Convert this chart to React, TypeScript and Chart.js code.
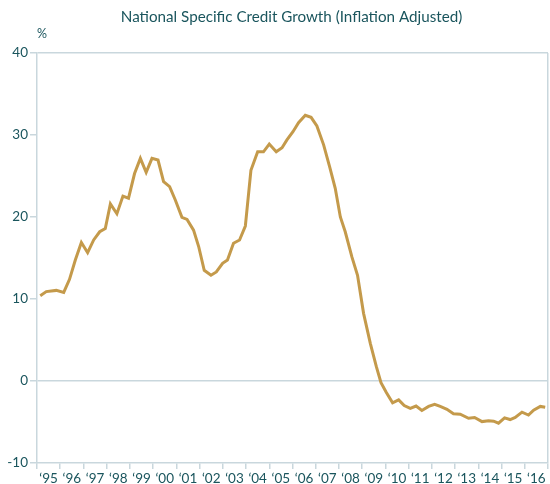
import React, { useEffect, useRef } from "react";
import { Chart, registerables } from "chart.js";

Chart.register(...registerables);

const TITLE = "National Specific Credit Growth (Inflation Adjusted)";
const UNIT = "%";

// Dates (decimal years) and values (% y/y, inflation adjusted)
const dates: number[] = [
  1995.14, 1995.40, 1995.83, 1996.15, 1996.40, 1996.65, 1996.91, 1997.18, 1997.44, 1997.70,
  1997.94, 1998.16, 1998.44, 1998.70, 1998.94, 1999.20, 1999.45, 1999.70, 1999.95, 2000.21,
  2000.45, 2000.71, 2000.95, 2001.24, 2001.46, 2001.74, 2001.96, 2002.20, 2002.49, 2002.72,
  2002.99, 2003.20, 2003.46, 2003.72, 2003.97, 2004.21, 2004.50, 2004.75, 2005.00, 2005.30,
  2005.55, 2005.76, 2006.02, 2006.26, 2006.55, 2006.80, 2007.05, 2007.34, 2007.60, 2007.84,
  2008.06, 2008.27, 2008.56, 2008.80, 2009.06, 2009.35, 2009.61, 2009.81, 2010.04, 2010.31,
  2010.57, 2010.81, 2011.07, 2011.32, 2011.57, 2011.86, 2012.12, 2012.36, 2012.65, 2012.93,
  2013.22, 2013.58, 2013.84, 2014.16, 2014.44, 2014.66, 2014.87, 2015.13, 2015.37, 2015.59,
  2015.88, 2016.16, 2016.38, 2016.67, 2016.88,
];

const growth: number[] = [
  10.4, 10.9, 11.05, 10.8, 12.4, 14.75, 16.9, 15.65, 17.2, 18.2,
  18.6, 21.6, 20.4, 22.55, 22.3, 25.3, 27.15, 25.45, 27.15, 26.95,
  24.3, 23.7, 22.1, 19.95, 19.7, 18.4, 16.4, 13.5, 12.9, 13.3,
  14.35, 14.75, 16.8, 17.2, 18.9, 25.7, 27.95, 27.95, 28.9, 27.95,
  28.45, 29.4, 30.4, 31.5, 32.4, 32.15, 31.1, 28.8, 26.1, 23.5,
  20.0, 18.2, 15.1, 12.9, 8.25, 4.6, 1.75, -0.2, -1.4, -2.65,
  -2.3, -3.0, -3.35, -3.05, -3.6, -3.1, -2.85, -3.1, -3.45, -4.0,
  -4.05, -4.55, -4.45, -4.95, -4.85, -4.9, -5.15, -4.5, -4.7, -4.45,
  -3.8, -4.15, -3.55, -3.1, -3.2,
];

const years: number[] = [
  1995, 1996, 1997, 1998, 1999, 2000, 2001, 2002, 2003, 2004, 2005,
  2006, 2007, 2008, 2009, 2010, 2011, 2012, 2013, 2014, 2015, 2016,
];
const yearLabels: string[] = [
  "\u201895", "\u201896", "\u201897", "\u201898", "\u201899", "\u201800", "\u201801", "\u201802",
  "\u201803", "\u201804", "\u201805", "\u201806", "\u201807", "\u201808", "\u201809", "\u201810",
  "\u201811", "\u201812", "\u201813", "\u201814", "\u201815", "\u201816",
];
const yTicks: number[] = [-10, 0, 10, 20, 30, 40];

const TEXT = "#1a555d";
const AXIS = "#c9d7dd";
const LINE = "#c49a4b";
const FONT = "Lato, 'Open Sans', sans-serif";

export default function App() {
  const ref = useRef<HTMLCanvasElement | null>(null);

  useEffect(() => {
    if (!ref.current) return;
    const titlePlugin = {
      id: "titleAndUnit",
      afterDraw(chart: any) {
        const { ctx, chartArea } = chart;
        ctx.save();
        ctx.fillStyle = TEXT;
        ctx.textBaseline = "middle";
        ctx.textAlign = "center";
        ctx.font = `15.2px ${FONT}`;
        ctx.fillText(TITLE, (chartArea.left + chartArea.right) / 2 - 1, 17);
        ctx.textAlign = "left";
        ctx.font = `12.5px ${FONT}`;
        ctx.fillText(UNIT, chartArea.left, 34);
        ctx.restore();
      },
    };

    const chart = new Chart(ref.current, {
      type: "line",
      data: {
        datasets: [
          {
            data: dates.map((d, i) => ({ x: d, y: growth[i] })),
            borderColor: LINE,
            borderWidth: 3,
            pointRadius: 0,
            tension: 0,
            fill: false,
          },
        ],
      },
      options: {
        animation: false,
        responsive: false,
        layout: { padding: { top: 53, right: 2, left: 0, bottom: 0 } },
        plugins: {
          legend: { display: false },
          title: { display: false },
          tooltip: { enabled: false },
        },
        scales: {
          x: {
            type: "linear",
            min: 1995,
            max: 2017,
            afterBuildTicks: (scale: any) => {
              scale.ticks = years.map((y) => ({ value: y + 0.5 }));
            },
            afterFit: (scale: any) => {
              scale.height = 21;
            },
            ticks: {
              autoSkip: false,
              maxRotation: 0,
              minRotation: 0,
              padding: 2,
              color: TEXT,
              font: { family: FONT, size: 13.5 },
              callback: (v: any) => {
                const idx = years.indexOf(Math.round(Number(v) - 0.5));
                return idx >= 0 ? yearLabels[idx] : "";
              },
            },
            grid: {
              offset: true,
              drawOnChartArea: true,
              drawTicks: true,
              tickLength: 6,
              color: (ctx: any) => (ctx.type === "scale" ? AXIS : "rgba(0,0,0,0)"),
              tickColor: AXIS,
              lineWidth: 1.5,
            },
            border: { display: true, color: AXIS, width: 1.5 },
          },
          y: {
            type: "linear",
            min: -10,
            max: 40,
            afterBuildTicks: (scale: any) => {
              scale.ticks = yTicks.map((v) => ({ value: v }));
            },
            afterFit: (scale: any) => {
              scale.width = 37;
            },
            ticks: {
              padding: 2,
              color: TEXT,
              font: { family: FONT, size: 13.5 },
            },
            grid: {
              drawTicks: true,
              tickLength: 7,
              color: (ctx: any) =>
                ctx.tick && (ctx.tick.value === 0 || ctx.tick.value === 40) ? AXIS : "rgba(0,0,0,0)",
              tickColor: AXIS,
              lineWidth: 1.5,
            },
            border: { display: true, color: AXIS, width: 1.5 },
          },
        },
      },
      plugins: [titlePlugin],
    });
    return () => chart.destroy();
  }, []);

  return (
    <div style={{ position: "absolute", left: 0, top: 0, width: 550, height: 484 }}>
      <canvas ref={ref} width={550} height={484} style={{ width: 550, height: 484 }} />
    </div>
  );
}
